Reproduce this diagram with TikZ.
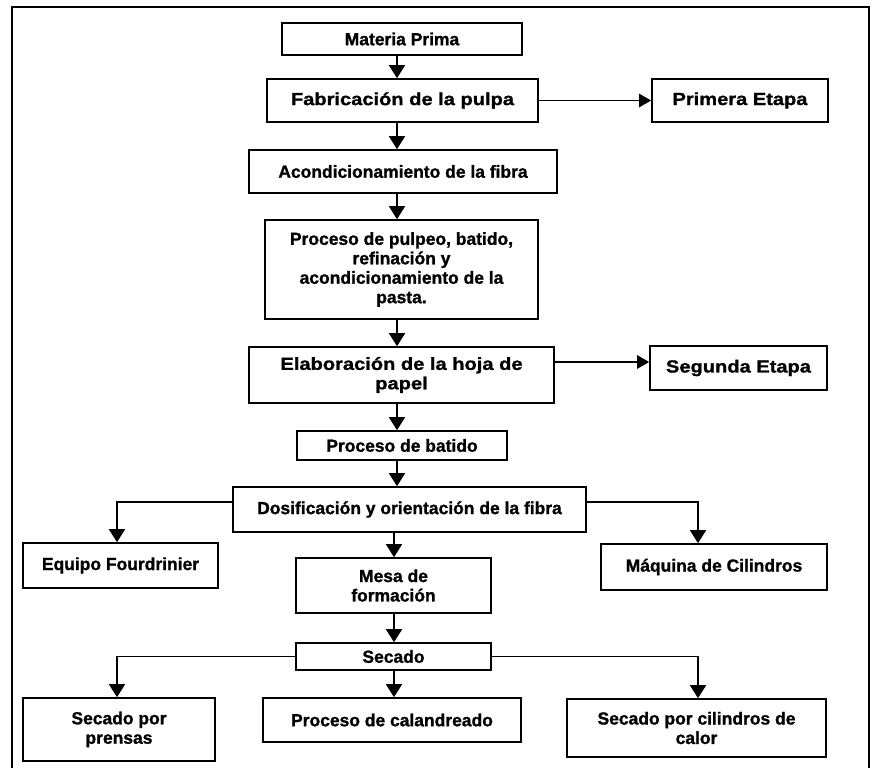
\documentclass[tikz,border=0pt]{standalone}
\usepackage{fontspec}
\setmainfont{Liberation Sans}[BoldFeatures={FakeBold=1.2}]
\newfontfamily\widebf{Liberation Sans Bold}[FakeStretch=1.15,FakeBold=1.2]
\usetikzlibrary{arrows.meta}
\begin{document}
\begin{tikzpicture}[x=0.03cm,y=-0.03cm,
  box/.style={draw,line width=1.4pt,inner sep=0pt,align=center,
    font=\fontsize{14.9pt}{16.6pt}\selectfont\bfseries},
  wbox/.style={box,font=\fontsize{14.9pt}{16.6pt}\selectfont\widebf},
  arr/.style={line width=1.5pt,-{Triangle[length=0.39cm,width=0.48cm]}},
  harr/.style={line width=1.3pt,-{Triangle[length=0.36cm,width=0.4cm]}},
  frame/.style={line width=1.4pt}]
\useasboundingbox (0,0) rectangle (873,768);
\draw[frame] (12,790) -- (12,7) -- (869,7) -- (869,790);

\node[box,minimum width=7.2cm,minimum height=0.96cm] (mp) at (402,39) {Materia Prima};
\node[wbox,minimum width=8.13cm,minimum height=1.29cm] (fab) at (402.5,100.5) {Fabricación de la pulpa};
\node[wbox,minimum width=5.28cm,minimum height=1.29cm] (pe) at (740,100.5) {Primera Etapa};
\node[box,minimum width=9.24cm,minimum height=1.29cm] (aco) at (403,171.5) {Acondicionamiento de la fibra};
\node[box,minimum width=8.19cm,minimum height=2.97cm] (pro) at (401.5,269.5) {Proceso de pulpeo, batido,\\refinación y\\acondicionamiento de la\\pasta.};
\node[wbox,minimum width=9.15cm,minimum height=1.68cm] (ela) at (401.5,375) {Elaboración de la hoja de\\papel};
\node[wbox,minimum width=5.31cm,minimum height=1.32cm] (se) at (738.5,368) {Segunda Etapa};
\node[box,minimum width=6.3cm,minimum height=0.87cm] (bat) at (402,445.5) {Proceso de batido};
\node[box,minimum width=10.59cm,minimum height=1.35cm] (dos) at (409.5,509.5) {Dosificación y orientación de la fibra};
\node[box,minimum width=5.85cm,minimum height=1.35cm] (eq) at (120.5,565.5) {Equipo Fourdrinier};
\node[box,minimum width=6.78cm,minimum height=1.38cm] (maq) at (714,567) {Máquina de Cilindros};
\node[box,minimum width=5.85cm,minimum height=1.65cm] (mesa) at (393.5,585.5) {Mesa de\\formación};
\node[box,minimum width=5.85cm,minimum height=0.81cm] (sec) at (393.5,656.5) {Secado};
\node[box,minimum width=5.76cm,minimum height=1.89cm] (sp) at (119,729.5) {Secado por\\prensas};
\node[box,minimum width=7.74cm,minimum height=1.32cm] (cal) at (392,720) {Proceso de calandreado};
\node[box,minimum width=7.77cm,minimum height=1.74cm] (sc) at (696.5,728) {Secado por cilindros de\\calor};

\coordinate (cx) at (397,0);
\coordinate (cy) at (394,0);
\coordinate (bl) at (117,502);
\coordinate (br) at (698,502);
\coordinate (se2) at (0,362);

\draw[arr] (mp.south -| cx) -- (fab.north -| cx);
\draw[arr] (fab.south -| cx) -- (aco.north -| cx);
\draw[arr] (aco.south -| cx) -- (pro.north -| cx);
\draw[arr] (pro.south -| cx) -- (ela.north -| cx);
\draw[arr] (ela.south -| cx) -- (bat.north -| cx);
\draw[arr] (bat.south -| cx) -- (dos.north -| cx);
\draw[harr] (fab.east) -- (pe.west);
\draw[harr] (ela.east |- se2) -- (se.west |- se2);
\draw[arr] (dos.west |- bl) -| (eq.north -| bl);
\draw[arr] (dos.east |- br) -| (maq.north -| br);
\draw[arr] (dos.south -| cy) -- (mesa.north -| cy);
\draw[arr] (mesa.south -| cy) -- (sec.north -| cy);
\draw[arr] (sec.west) -| (sp.north -| bl);
\draw[arr] (sec.east) -| (sc.north -| br);
\draw[arr] (sec.south -| cy) -- (cal.north -| cy);
\end{tikzpicture}
\end{document}
